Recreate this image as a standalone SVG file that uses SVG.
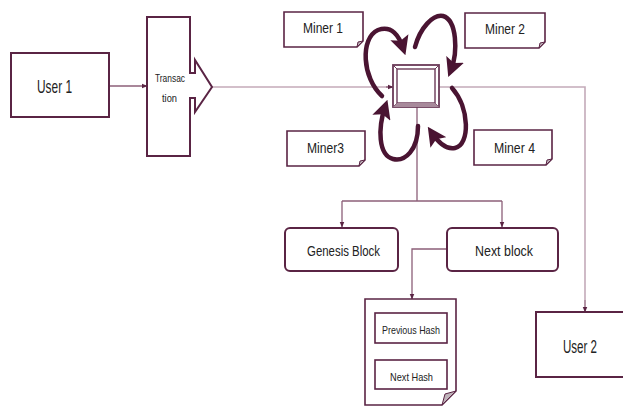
<svg xmlns="http://www.w3.org/2000/svg" width="623" height="415" viewBox="0 0 623 415">
  <defs>
    <marker id="tip" viewBox="0 0 10 10" markerWidth="6" markerHeight="6" refX="9" refY="5" orient="auto" markerUnits="userSpaceOnUse">
      <path d="M0,1 L10,5 L0,9 z" fill="#5a2444"/>
    </marker>
    <marker id="bigtip" viewBox="0 0 10 10" markerWidth="19" markerHeight="19" refX="6" refY="5" orient="auto" markerUnits="userSpaceOnUse">
      <path d="M0,0 L10,5 L0,10 L2,5 z" fill="#4a1432"/>
    </marker>
    <style>
      .box { fill: #ffffff; stroke: #5a2444; stroke-width: 2; }
      .note { fill: #ffffff; stroke: #5a2444; stroke-width: 1.6; }
      .fold { fill: #bfb3ba; stroke: #5a2444; stroke-width: 1; }
      .wire { fill: none; stroke: #8c5f78; stroke-width: 1.3; }
      .main { fill: none; stroke: #c4aab9; stroke-width: 1.6; }
      .loop { fill: none; stroke: #4a1432; stroke-width: 4.5; stroke-linecap: round; }
      text { font-family: "Liberation Sans", "DejaVu Sans", sans-serif; fill: #222222; text-anchor: start; }
    </style>
  </defs>

  <!-- connectors -->
  <g id="connectors">
    <path class="wire" d="M109,86 H147" marker-end="url(#tip)"/>
    <path class="main" d="M212,87 H393"/>
    <path class="wire" d="M386,87 H393" marker-end="url(#tip)"/>
    <path class="main" d="M439,87 H585 V300"/>
    <path class="wire" d="M585,300 V312" marker-end="url(#tip)"/>
    <path class="wire" d="M417,107 V201"/>
    <path class="wire" d="M342,201 H502"/>
    <path class="wire" d="M342,201 V227" marker-end="url(#tip)"/>
    <path class="wire" d="M502,201 V227" marker-end="url(#tip)"/>
    <path class="wire" d="M447,249 H412 V299" marker-end="url(#tip)"/>
    <!-- miner loops -->
    <path class="loop" d="M382,96 C362,78 360,38 378,30 C392,25 399,36 403,48" marker-end="url(#bigtip)"/>
    <path class="loop" d="M415,47 C420,28 433,14 443,16 C457,20 458,52 451,70" marker-end="url(#bigtip)"/>
    <path class="loop" d="M452,88 C470,108 470,145 455,148 C446,150 438,142 432,133" marker-end="url(#bigtip)"/>
    <path class="loop" d="M418,126 C418,150 405,162 393,159 C378,155 378,128 385,107" marker-end="url(#bigtip)"/>
  </g>

  <!-- User 1 -->
  <g id="user1">
    <rect class="box" x="11" y="53" width="98" height="64"/>
    <text x="37" y="93" font-size="19" textLength="35" lengthAdjust="spacingAndGlyphs">User 1</text>
  </g>

  <!-- Transaction -->
  <g id="transaction">
    <path class="box" d="M147,17 H190 V73 H195 V60 L212,87 L195,112 V98 H190 V156 H147 Z" stroke-linejoin="miter"/>
    <text x="155" y="82" font-size="11" textLength="30" lengthAdjust="spacingAndGlyphs">Transac</text>
    <text x="162" y="102" font-size="11" textLength="15" lengthAdjust="spacingAndGlyphs">tion</text>
  </g>

  <!-- Central block -->
  <g id="block">
    <rect x="393" y="65" width="46" height="42" fill="#ffffff" stroke="#6b3a58" stroke-width="1.8"/>
    <rect x="397" y="69" width="38" height="34" fill="#ffffff" stroke="#6b3a58" stroke-width="1.4"/>
    <path d="M393,65 L397,69 M439,65 L435,69 M393,107 L397,103 M439,107 L435,103" stroke="#6b3a58" stroke-width="1"/>
    <path d="M397,103 H435 L439,107 H393 Z" fill="#a88a9b"/>
  </g>

  <!-- Miners -->
  <g id="miner1">
    <path class="note" d="M284,12 H363 V41 L357,47 H284 Z"/>
    <path class="fold" d="M357,47 L358,42 L363,41 Z"/>
    <text x="303" y="33" font-size="15" textLength="40" lengthAdjust="spacingAndGlyphs">Miner 1</text>
  </g>
  <g id="miner2">
    <path class="note" d="M465,13 H545 V42 L539,48 H465 Z"/>
    <path class="fold" d="M539,48 L540,43 L545,42 Z"/>
    <text x="485" y="34" font-size="15" textLength="40" lengthAdjust="spacingAndGlyphs">Miner 2</text>
  </g>
  <g id="miner3">
    <path class="note" d="M287,131 H365 V160 L359,166 H287 Z"/>
    <path class="fold" d="M359,166 L360,161 L365,160 Z"/>
    <text x="307" y="153" font-size="15" textLength="37" lengthAdjust="spacingAndGlyphs">Miner3</text>
  </g>
  <g id="miner4">
    <path class="note" d="M474,130 H552 V159 L546,165 H474 Z"/>
    <path class="fold" d="M546,165 L547,160 L552,159 Z"/>
    <text x="494" y="153" font-size="15" textLength="41" lengthAdjust="spacingAndGlyphs">Miner 4</text>
  </g>

  <!-- Blocks -->
  <g id="genesis">
    <rect class="box" x="285" y="228" width="113" height="43" rx="5"/>
    <text x="307" y="256" font-size="15" textLength="73" lengthAdjust="spacingAndGlyphs">Genesis Block</text>
  </g>
  <g id="nextblock">
    <rect class="box" x="447" y="228" width="111" height="43" rx="5"/>
    <text x="475" y="256" font-size="15" textLength="58" lengthAdjust="spacingAndGlyphs">Next block</text>
  </g>

  <!-- Block contents -->
  <g id="blockdoc">
    <path class="note" d="M365,299 H456 V391 L442,405 H365 Z"/>
    <path class="fold" d="M442,405 L445,394 L456,391 Z"/>
    <rect class="note" x="375" y="313" width="72" height="30"/>
    <text x="382" y="334" font-size="11" textLength="58" lengthAdjust="spacingAndGlyphs">Previous Hash</text>
    <rect class="note" x="375" y="360" width="72" height="29"/>
    <text x="390" y="381" font-size="11" textLength="43" lengthAdjust="spacingAndGlyphs">Next Hash</text>
  </g>

  <!-- User 2 -->
  <g id="user2">
    <rect class="box" x="536" y="312" width="90" height="65"/>
    <text x="563" y="353" font-size="18" textLength="34" lengthAdjust="spacingAndGlyphs">User 2</text>
  </g>
</svg>
